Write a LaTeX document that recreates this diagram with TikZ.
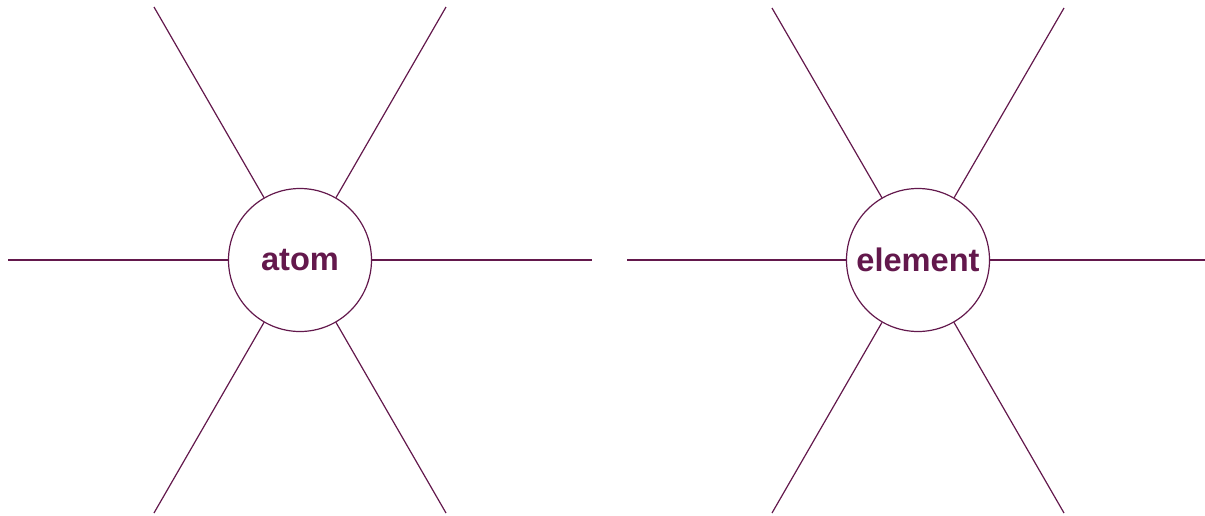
\documentclass[tikz,border=0pt]{standalone}
\usepackage{fontspec}
\setmainfont{Liberation Sans}
\usepackage{xcolor}
\usepackage{tikz}
\usetikzlibrary{positioning}
\definecolor{plum}{RGB}{99,24,76}

\begin{document}
\begin{tikzpicture}[
    x=0.5pt, y=-0.5pt,
    hub/.style = {circle, draw=plum, line width=0.6pt, minimum size=71.5pt, inner sep=0pt, text=plum, font=\fontsize{16.3}{18}\selectfont\bfseries},
    spoke/.style = {draw=plum, line width=0.6pt}
]
    \useasboundingbox (0,0) rectangle (1205,515);

    % Left hub
    \node [hub] (atom) at (300,260) {atom};
    \coordinate (atomE)  at (592,260);
    \coordinate (atomNE) at (446,7);
    \coordinate (atomNW) at (154,7);
    \coordinate (atomW)  at (8,260);
    \coordinate (atomSW) at (154,513);
    \coordinate (atomSE) at (446,513);

    % Right hub
    \node [hub] (element) at (918,260) {element};
    \coordinate (elemE)  at (1205,260);
    \coordinate (elemNE) at (1064,8);
    \coordinate (elemNW) at (772,8);
    \coordinate (elemW)  at (627,260);
    \coordinate (elemSW) at (772,513);
    \coordinate (elemSE) at (1064,513);

    % Spokes - left
    \draw [spoke] (atom) -- (atomE);
    \draw [spoke] (atom) -- (atomNE);
    \draw [spoke] (atom) -- (atomNW);
    \draw [spoke] (atom) -- (atomW);
    \draw [spoke] (atom) -- (atomSW);
    \draw [spoke] (atom) -- (atomSE);

    % Spokes - right
    \draw [spoke] (element) -- (elemE);
    \draw [spoke] (element) -- (elemNE);
    \draw [spoke] (element) -- (elemNW);
    \draw [spoke] (element) -- (elemW);
    \draw [spoke] (element) -- (elemSW);
    \draw [spoke] (element) -- (elemSE);
\end{tikzpicture}
\end{document}
